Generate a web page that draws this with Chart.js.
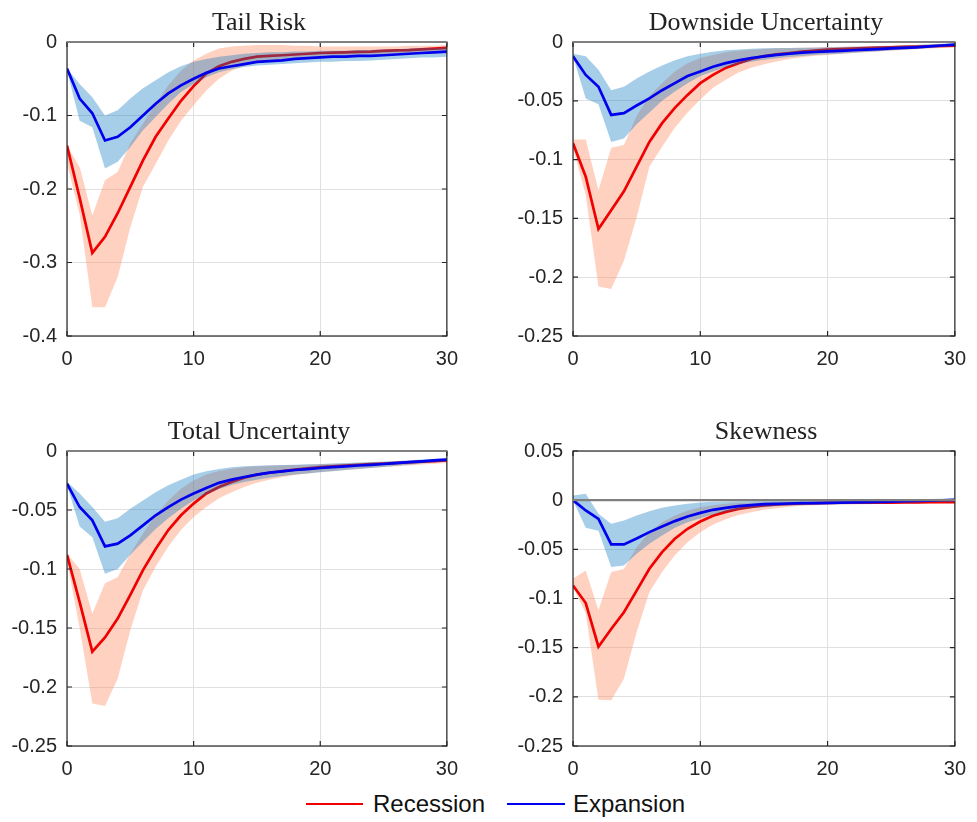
<!DOCTYPE html>
<html>
<head>
<meta charset="utf-8">
<script src="https://cdn.jsdelivr.net/npm/chart.js@4.4.1/dist/chart.umd.min.js"></script>
<style>
  body { margin: 0; background: #fff; width: 977px; height: 822px; position: relative; overflow: hidden; }
  canvas { position: absolute; }
  .title { position: absolute; font-family: 'Liberation Serif', serif; font-size: 26px; line-height: 30px; text-align: center; color: #222; white-space: nowrap; }
  .swatch { position: absolute; height: 0; border-top: 2.6px solid; }
  .label { position: absolute; font-family: 'Liberation Sans', Arial, sans-serif; font-size: 24px; line-height: 28px; color: #111; white-space: nowrap; }
</style>
</head>
<body>
<canvas id="tail"></canvas>
<canvas id="down"></canvas>
<canvas id="total"></canvas>
<canvas id="skew"></canvas>

<div class="swatch" style="left:306px; top:803px; width:57px; border-color:#f00000;"></div>
<div class="label" style="left:373px; top:790px;">Recession</div>
<div class="swatch" style="left:507px; top:803px; width:58px; border-color:#0000ee;"></div>
<div class="label" style="left:573px; top:790px;">Expansion</div>

<script>
const horizons = [0, 1, 2, 3, 4, 5, 6, 7, 8, 9, 10, 11, 12, 13, 14, 15, 16, 17, 18, 19, 20, 21, 22, 23, 24, 25, 26, 27, 28, 29, 30];
const xTicks = [0, 10, 20, 30];

const tailTicks = [0, -0.1, -0.2, -0.3, -0.4];
const uncTicks = [0, -0.05, -0.1, -0.15, -0.2, -0.25];
const skewTicks = [0.05, 0, -0.05, -0.1, -0.15, -0.2, -0.25];

// Tail Risk
const tailRec = [-0.141, -0.212, -0.287, -0.265, -0.233, -0.197, -0.161, -0.129, -0.104, -0.080, -0.060, -0.043, -0.033, -0.027, -0.023, -0.020, -0.019, -0.018, -0.017, -0.016, -0.015, -0.0145, -0.014, -0.0135, -0.013, -0.012, -0.0115, -0.011, -0.010, -0.009, -0.008];
const tailRecHi = [-0.141, -0.170, -0.236, -0.188, -0.177, -0.138, -0.111, -0.084, -0.059, -0.039, -0.025, -0.016, -0.009, -0.006, -0.005, -0.004, -0.004, -0.004, -0.005, -0.005, -0.006, -0.006, -0.006, -0.006, -0.006, -0.006, -0.006, -0.005, -0.005, -0.005, -0.004];
const tailRecLo = [-0.165, -0.235, -0.361, -0.361, -0.320, -0.252, -0.197, -0.166, -0.134, -0.107, -0.086, -0.066, -0.050, -0.039, -0.032, -0.027, -0.025, -0.024, -0.023, -0.022, -0.021, -0.020, -0.020, -0.019, -0.018, -0.017, -0.016, -0.015, -0.014, -0.013, -0.012];
const tailExp = [-0.036, -0.077, -0.097, -0.134, -0.129, -0.116, -0.100, -0.084, -0.070, -0.059, -0.050, -0.042, -0.036, -0.033, -0.030, -0.027, -0.026, -0.025, -0.023, -0.022, -0.021, -0.020, -0.020, -0.019, -0.019, -0.018, -0.017, -0.016, -0.015, -0.014, -0.013];
const tailExpHi = [-0.036, -0.057, -0.075, -0.100, -0.093, -0.077, -0.063, -0.052, -0.041, -0.033, -0.027, -0.023, -0.020, -0.018, -0.016, -0.015, -0.014, -0.014, -0.013, -0.013, -0.012, -0.012, -0.012, -0.011, -0.011, -0.010, -0.010, -0.009, -0.008, -0.008, -0.007];
const tailExpLo = [-0.039, -0.107, -0.116, -0.172, -0.163, -0.143, -0.120, -0.102, -0.084, -0.068, -0.057, -0.048, -0.041, -0.037, -0.034, -0.032, -0.031, -0.030, -0.029, -0.028, -0.027, -0.027, -0.026, -0.026, -0.025, -0.024, -0.023, -0.022, -0.021, -0.021, -0.020];

// Downside Uncertainty
const downRec = [-0.086, -0.1145, -0.159, -0.143, -0.127, -0.106, -0.085, -0.069, -0.056, -0.045, -0.035, -0.028, -0.022, -0.018, -0.0145, -0.012, -0.0105, -0.0094, -0.0082, -0.0074, -0.0065, -0.006, -0.0056, -0.0052, -0.0048, -0.0045, -0.0042, -0.0039, -0.0036, -0.0033, -0.003];
const downRecHi = [-0.083, -0.083, -0.126, -0.090, -0.0875, -0.063, -0.046, -0.035, -0.025, -0.018, -0.0136, -0.011, -0.0088, -0.0074, -0.0065, -0.006, -0.0054, -0.005, -0.0048, -0.0045, -0.0043, -0.004, -0.0038, -0.0036, -0.0033, -0.003, -0.0027, -0.0024, -0.0021, -0.0018, -0.0015];
const downRecLo = [-0.090, -0.130, -0.208, -0.210, -0.186, -0.149, -0.106, -0.089, -0.073, -0.060, -0.049, -0.039, -0.032, -0.026, -0.022, -0.019, -0.0165, -0.0145, -0.013, -0.0117, -0.011, -0.0102, -0.0094, -0.0087, -0.008, -0.0074, -0.0068, -0.0062, -0.0056, -0.005, -0.0045];
const downExp = [-0.0122, -0.028, -0.038, -0.062, -0.0605, -0.054, -0.048, -0.041, -0.035, -0.029, -0.025, -0.021, -0.018, -0.0156, -0.0136, -0.0122, -0.011, -0.010, -0.0091, -0.0085, -0.008, -0.0075, -0.007, -0.0065, -0.006, -0.0055, -0.005, -0.0045, -0.0038, -0.003, -0.0023];
const downExpHi = [-0.010, -0.0122, -0.0236, -0.041, -0.038, -0.031, -0.025, -0.020, -0.0156, -0.0122, -0.010, -0.0082, -0.0071, -0.0063, -0.0057, -0.0054, -0.0051, -0.0051, -0.0048, -0.0048, -0.0045, -0.0043, -0.0041, -0.0039, -0.0037, -0.0034, -0.003, -0.0025, -0.002, -0.0015, -0.0009];
const downExpLo = [-0.0122, -0.048, -0.053, -0.085, -0.082, -0.070, -0.060, -0.050, -0.042, -0.035, -0.029, -0.025, -0.0213, -0.0188, -0.0168, -0.015, -0.0139, -0.0128, -0.0119, -0.011, -0.0105, -0.0099, -0.0092, -0.0085, -0.0078, -0.0071, -0.0064, -0.0057, -0.005, -0.0043, -0.0037];

// Total Uncertainty
const totalRec = [-0.088, -0.128, -0.170, -0.158, -0.142, -0.122, -0.101, -0.083, -0.067, -0.0545, -0.0446, -0.036, -0.0305, -0.0263, -0.0226, -0.020, -0.0184, -0.017, -0.0158, -0.0147, -0.0136, -0.013, -0.0124, -0.0118, -0.0112, -0.0107, -0.0101, -0.0096, -0.009, -0.0085, -0.0079];
const totalRecHi = [-0.087, -0.100, -0.138, -0.112, -0.107, -0.087, -0.070, -0.0545, -0.042, -0.032, -0.025, -0.020, -0.017, -0.015, -0.0138, -0.013, -0.0124, -0.0121, -0.0119, -0.0116, -0.0113, -0.0109, -0.0105, -0.0101, -0.0097, -0.0093, -0.0088, -0.0084, -0.0079, -0.0075, -0.007];
const totalRecLo = [-0.093, -0.150, -0.214, -0.216, -0.193, -0.152, -0.118, -0.098, -0.081, -0.067, -0.056, -0.0475, -0.040, -0.035, -0.0305, -0.027, -0.0243, -0.022, -0.0203, -0.019, -0.0178, -0.0169, -0.016, -0.0152, -0.0144, -0.0136, -0.0129, -0.0122, -0.0115, -0.0108, -0.0102];
const totalExp = [-0.0277, -0.0475, -0.0588, -0.0808, -0.0785, -0.0715, -0.063, -0.0545, -0.0475, -0.0412, -0.036, -0.0314, -0.027, -0.0243, -0.022, -0.020, -0.0184, -0.0172, -0.0161, -0.0153, -0.0144, -0.0137, -0.013, -0.0123, -0.0117, -0.011, -0.0102, -0.0095, -0.0088, -0.008, -0.0073];
const totalExpHi = [-0.026, -0.036, -0.0475, -0.060, -0.057, -0.049, -0.042, -0.035, -0.029, -0.0243, -0.020, -0.0172, -0.0153, -0.0138, -0.013, -0.0124, -0.0121, -0.0119, -0.0116, -0.0113, -0.011, -0.0106, -0.0102, -0.0098, -0.0094, -0.009, -0.0084, -0.0078, -0.0072, -0.0066, -0.006];
const totalExpLo = [-0.029, -0.064, -0.073, -0.104, -0.100, -0.088, -0.077, -0.066, -0.057, -0.049, -0.042, -0.0367, -0.0322, -0.0288, -0.0263, -0.0243, -0.0226, -0.0212, -0.020, -0.019, -0.018, -0.0171, -0.0162, -0.0153, -0.0145, -0.0136, -0.0126, -0.0116, -0.0106, -0.0097, -0.0088];

// Skewness
const skewRec = [-0.0867, -0.1046, -0.149, -0.131, -0.114, -0.092, -0.0698, -0.0528, -0.0393, -0.0291, -0.0217, -0.0159, -0.0119, -0.0088, -0.0068, -0.0054, -0.0044, -0.0037, -0.0034, -0.003, -0.0027, -0.0026, -0.0025, -0.0025, -0.0024, -0.0024, -0.0023, -0.0022, -0.0021, -0.0021, -0.002];
const skewRecHi = [-0.080, -0.0715, -0.112, -0.073, -0.070, -0.048, -0.0325, -0.0224, -0.0156, -0.0105, -0.0071, -0.0051, -0.0037, -0.0027, -0.0024, -0.002, -0.0017, -0.0017, -0.0017, -0.0014, -0.0014, -0.0014, -0.0014, -0.0014, -0.0014, -0.0014, -0.0013, -0.0012, -0.0011, -0.0011, -0.001];
const skewRecLo = [-0.088, -0.115, -0.203, -0.2035, -0.1815, -0.134, -0.0935, -0.073, -0.056, -0.0427, -0.0325, -0.0247, -0.0193, -0.0152, -0.0122, -0.0098, -0.0081, -0.0068, -0.0058, -0.0051, -0.0047, -0.0045, -0.0043, -0.0041, -0.0039, -0.0037, -0.0036, -0.0034, -0.0033, -0.0031, -0.003];
const skewExp = [0, -0.0105, -0.019, -0.045, -0.045, -0.039, -0.0325, -0.0268, -0.0213, -0.0166, -0.0129, -0.0098, -0.0078, -0.0061, -0.0051, -0.0041, -0.0037, -0.0034, -0.003, -0.003, -0.0027, -0.0025, -0.0023, -0.002, -0.0017, -0.0014, -0.0011, -0.0008, -0.0005, -0.0001, 0.0003];
const skewExpHi = [0.0047, 0.0064, -0.0139, -0.024, -0.0207, -0.0156, -0.0112, -0.0078, -0.0054, -0.0037, -0.0024, -0.0017, -0.0014, -0.001, -0.001, -0.0007, -0.0007, -0.0007, -0.0007, -0.0007, -0.0007, -0.0005, -0.0003, -0.0001, 0.0001, 0.0003, 0.0006, 0.0008, 0.0011, 0.0014, 0.0017];
const skewExpLo = [-0.0003, -0.028, -0.031, -0.068, -0.0664, -0.0545, -0.0444, -0.0359, -0.0281, -0.0224, -0.0183, -0.0146, -0.0119, -0.0098, -0.0081, -0.0071, -0.0061, -0.0054, -0.0051, -0.0047, -0.0044, -0.0041, -0.0039, -0.0036, -0.0033, -0.003, -0.0026, -0.0022, -0.0018, -0.0014, -0.001];

const panels = [
  { id: 'tail', title: 'Tail Risk', area: { left: 67, top: 42, right: 451, bottom: 336 }, yTicks: tailTicks,
    rec: tailRec, recHi: tailRecHi, recLo: tailRecLo, exp: tailExp, expHi: tailExpHi, expLo: tailExpLo },
  { id: 'down', title: 'Downside Uncertainty', area: { left: 573, top: 42, right: 959, bottom: 336 }, yTicks: uncTicks,
    rec: downRec, recHi: downRecHi, recLo: downRecLo, exp: downExp, expHi: downExpHi, expLo: downExpLo },
  { id: 'total', title: 'Total Uncertainty', area: { left: 67, top: 451, right: 451, bottom: 746 }, yTicks: uncTicks,
    rec: totalRec, recHi: totalRecHi, recLo: totalRecLo, exp: totalExp, expHi: totalExpHi, expLo: totalExpLo },
  { id: 'skew', title: 'Skewness', area: { left: 573, top: 451, right: 959, bottom: 746 }, yTicks: skewTicks,
    rec: skewRec, recHi: skewRecHi, recLo: skewRecLo, exp: skewExp, expHi: skewExpHi, expLo: skewExpLo }
];

const RED = '#f00000';
const BLUE = '#0000ee';
const RED_BAND = 'rgba(255, 140, 100, 0.4)';
const BLUE_BAND = 'rgba(0, 114, 189, 0.35)';
const AXIS = '#262626';
const TICK_FONT = { family: "'Liberation Sans', Arial, sans-serif", size: 20 };

function pts(values) {
  return horizons.map((h, i) => ({ x: h, y: values[i] }));
}

// box, inward ticks and the zero line, drawn over the data like matlab does
const frame = {
  id: 'frame',
  afterDatasetsDraw(chart) {
    const { ctx, chartArea: a, scales: { x, y } } = chart;
    ctx.save();
    ctx.strokeStyle = AXIS;
    ctx.lineWidth = 1.2;
    ctx.strokeRect(a.left, a.top, a.width, a.height);
    ctx.beginPath();
    x.ticks.forEach(t => {
      const px = x.getPixelForValue(t.value);
      ctx.moveTo(px, a.bottom); ctx.lineTo(px, a.bottom - 5);
      ctx.moveTo(px, a.top); ctx.lineTo(px, a.top + 5);
    });
    y.ticks.forEach(t => {
      const py = y.getPixelForValue(t.value);
      ctx.moveTo(a.left, py); ctx.lineTo(a.left + 5, py);
      ctx.moveTo(a.right, py); ctx.lineTo(a.right - 5, py);
    });
    ctx.stroke();
    const y0 = y.getPixelForValue(0);
    ctx.strokeStyle = '#808080';
    ctx.lineWidth = 2.2;
    ctx.beginPath();
    ctx.moveTo(a.left, y0); ctx.lineTo(a.right, y0);
    ctx.stroke();
    ctx.restore();
  }
};

const padL = 68, padR = 18, padT = 42, padB = 44;

function makeChart(p) {
  const canvas = document.getElementById(p.id);
  const w = p.area.right - p.area.left + padL + padR;
  const h = p.area.bottom - p.area.top + padT + padB;
  canvas.width = w;
  canvas.height = h;
  canvas.style.left = (p.area.left - padL) + 'px';
  canvas.style.top = (p.area.top - padT) + 'px';

  const title = document.createElement('div');
  title.className = 'title';
  title.textContent = p.title;
  title.style.left = p.area.left + 'px';
  title.style.width = (p.area.right - p.area.left) + 'px';
  title.style.top = (p.area.top - 35) + 'px';
  document.body.appendChild(title);

  const yMin = Math.min(...p.yTicks), yMax = Math.max(...p.yTicks);
  const line = { pointRadius: 0, tension: 0, borderWidth: 2.7, fill: false };
  const edge = { pointRadius: 0, tension: 0, borderWidth: 0, borderColor: 'rgba(0,0,0,0)' };

  // chart.js paints dataset 0 last, so the order here is top to bottom
  new Chart(canvas, {
    type: 'line',
    data: {
      datasets: [
        { label: 'Expansion', data: pts(p.exp), borderColor: BLUE, ...line },
        { label: 'Expansion hi', data: pts(p.expHi), ...edge, backgroundColor: BLUE_BAND, fill: { target: 2 } },
        { label: 'Expansion lo', data: pts(p.expLo), ...edge, fill: false },
        { label: 'Recession', data: pts(p.rec), borderColor: RED, ...line },
        { label: 'Recession hi', data: pts(p.recHi), ...edge, backgroundColor: RED_BAND, fill: { target: 5 } },
        { label: 'Recession lo', data: pts(p.recLo), ...edge, fill: false }
      ]
    },
    options: {
      responsive: false,
      animation: false,
      layout: { padding: { top: padT, right: padR, left: 0, bottom: 0 } },
      plugins: { legend: { display: false }, tooltip: { enabled: false }, title: { display: false } },
      scales: {
        x: {
          type: 'linear', min: 0, max: 30,
          afterBuildTicks: s => { s.ticks = xTicks.map(v => ({ value: v })); },
          afterFit: s => { s.height = padB; },
          grid: { color: '#e0e0e0', drawTicks: false },
          border: { display: false },
          ticks: { padding: 11, color: AXIS, font: TICK_FONT, maxRotation: 0 }
        },
        y: {
          type: 'linear', min: yMin, max: yMax,
          afterBuildTicks: s => { s.ticks = p.yTicks.map(v => ({ value: v })); },
          afterFit: s => { s.width = padL; },
          grid: { color: '#e0e0e0', drawTicks: false },
          border: { display: false },
          ticks: {
            padding: 10, color: AXIS, font: TICK_FONT,
            callback: v => String(+Number(v).toFixed(3))
          }
        }
      }
    },
    plugins: [frame]
  });
}

panels.forEach(makeChart);
</script>
</body>
</html>
